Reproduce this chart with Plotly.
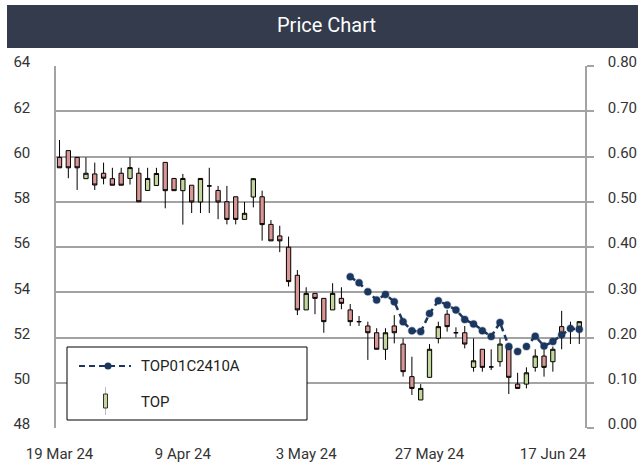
import plotly.graph_objects as go

# ---------------- data ----------------
dates = [
    "2024-03-19", "2024-03-20", "2024-03-21", "2024-03-22", "2024-03-25", "2024-03-26",
    "2024-03-27", "2024-03-28", "2024-03-29", "2024-04-01", "2024-04-02", "2024-04-03",
    "2024-04-04", "2024-04-05", "2024-04-09", "2024-04-10", "2024-04-11", "2024-04-17",
    "2024-04-18", "2024-04-19", "2024-04-22", "2024-04-23", "2024-04-24", "2024-04-25",
    "2024-04-26", "2024-04-29", "2024-04-30", "2024-05-02", "2024-05-03", "2024-05-07",
    "2024-05-08", "2024-05-09", "2024-05-10", "2024-05-13", "2024-05-14", "2024-05-15",
    "2024-05-16", "2024-05-17", "2024-05-20", "2024-05-21", "2024-05-23", "2024-05-24",
    "2024-05-27", "2024-05-28", "2024-05-29", "2024-05-30", "2024-05-31", "2024-06-04",
    "2024-06-05", "2024-06-06", "2024-06-07", "2024-06-10", "2024-06-11", "2024-06-12",
    "2024-06-13", "2024-06-14", "2024-06-17", "2024-06-18", "2024-06-19", "2024-06-20",
]
opens = [
    59.96, 60.26, 59.96, 59.02, 59.23, 59.26, 59.02, 59.26, 59.03, 59.26,
    58.50, 58.72, 59.74, 59.03, 58.49, 58.73, 57.99, 58.70, 58.50, 58.00,
    58.22, 57.22, 58.21, 58.22, 57.00, 56.49, 55.99, 54.75, 53.22, 53.95,
    53.73, 53.22, 53.73, 53.22, 52.70, 52.51, 52.21, 51.48, 52.51, 51.71,
    50.27, 49.24, 50.24, 51.96, 53.03, 52.21, 52.21, 50.68, 51.48, 50.70,
    50.93, 51.48, 49.94, 49.94, 50.68, 51.18, 50.93, 52.48, 52.30, 52.26,
]
highs = [
    60.73, 60.26, 59.96, 59.96, 59.73, 59.73, 59.50, 59.50, 59.96, 59.50,
    59.50, 59.50, 59.74, 59.03, 59.23, 58.73, 59.03, 59.50, 58.70, 58.70,
    58.22, 57.99, 59.02, 58.49, 57.19, 56.94, 56.46, 54.98, 54.22, 53.95,
    53.73, 54.40, 54.22, 53.48, 52.95, 52.70, 52.41, 52.41, 52.99, 51.96,
    51.15, 49.94, 51.71, 52.70, 53.22, 52.45, 52.51, 51.96, 51.48, 51.48,
    51.96, 51.71, 50.44, 50.68, 51.48, 51.48, 51.60, 53.18, 52.70, 52.70,
]
lows = [
    59.50, 59.04, 58.52, 59.02, 58.52, 58.77, 58.73, 58.73, 58.76, 58.00,
    58.50, 58.72, 57.71, 58.49, 56.99, 57.50, 57.50, 57.50, 57.23, 57.00,
    57.00, 57.22, 57.75, 56.28, 56.27, 55.77, 54.25, 52.99, 53.22, 53.03,
    52.21, 53.22, 53.25, 52.51, 52.51, 51.01, 51.48, 51.01, 51.74, 50.27,
    49.46, 49.24, 50.24, 51.74, 52.26, 52.00, 51.52, 50.49, 50.49, 50.56,
    50.71, 49.50, 49.75, 49.75, 50.49, 50.27, 50.49, 51.48, 51.71, 51.71,
]
closes = [
    59.50, 59.50, 59.50, 59.26, 58.74, 59.04, 58.73, 58.73, 59.51, 58.00,
    59.03, 59.25, 58.49, 58.49, 59.03, 57.99, 59.03, 58.70, 57.99, 57.22,
    57.22, 57.49, 59.02, 56.99, 56.27, 56.27, 54.47, 53.22, 53.95, 53.73,
    52.70, 53.95, 53.51, 52.70, 52.70, 52.21, 51.48, 52.21, 52.21, 50.49,
    49.75, 49.75, 51.48, 52.48, 52.48, 52.21, 51.71, 50.97, 50.68, 50.70,
    51.71, 50.24, 49.75, 50.44, 51.18, 50.68, 51.48, 52.11, 52.45, 52.70,
]
warrant_dates = dates[33:]
warrant_values = [
    0.334, 0.321, 0.301, 0.283, 0.295, 0.279, 0.235, 0.215, 0.213, 0.253,
    0.281, 0.272, 0.261, 0.240, 0.230, 0.215, 0.202, 0.233, 0.180, 0.169,
    0.180, 0.203, 0.181, 0.191, 0.206, 0.220, 0.218,
]
tick_dates = ["2024-03-19", "2024-04-09", "2024-05-03", "2024-05-27", "2024-06-17"]
tick_labels = ["19 Mar 24", "9 Apr 24", "3 May 24", "27 May 24", "17 Jun 24"]
price_ticks = [48, 50, 52, 54, 56, 58, 60, 62, 64]
warrant_ticks = [0.0, 0.1, 0.2, 0.3, 0.4, 0.5, 0.6, 0.7, 0.8]

# ---------------- layout geometry ----------------
W, H = 638, 465
L, R, T, B = 56, 53, 66, 37
PW, PH = W - L - R, H - T - B


def px(x):
    return (x - L) / PW


def py(y):
    return (H - B - y) / PH


GRID = "#a3a3a3"
NAVY = "#1b365f"
UP = "#c3d69b"
DOWN = "#d99694"
FONT = "Roboto"

fig = go.Figure()
fig.add_trace(go.Candlestick(
    x=dates, open=opens, high=highs, low=lows, close=closes, name="TOP",
    increasing=dict(fillcolor=UP, line=dict(color="black", width=1)),
    decreasing=dict(fillcolor=DOWN, line=dict(color="black", width=1)),
    whiskerwidth=0, showlegend=False, hoverinfo="skip",
))
fig.add_trace(go.Scatter(
    x=warrant_dates, y=warrant_values, yaxis="y2", name="TOP01C2410A",
    mode="lines+markers",
    line=dict(color=NAVY, width=2.5, dash="6px,4px"),
    marker=dict(color=NAVY, size=7, line=dict(color="rgba(27,54,95,0.35)", width=1.5)),
    showlegend=False, hoverinfo="skip",
))

shapes = [
    # title bar
    dict(type="rect", xref="paper", yref="paper", x0=px(7), x1=px(640), y0=py(48), y1=py(5),
         fillcolor="#333b4c", line=dict(width=0), layer="above"),
    # legend box
    dict(type="rect", xref="paper", yref="paper", x0=px(67), x1=px(307), y0=py(420), y1=py(347),
         fillcolor="white", line=dict(color="black", width=1), layer="above"),
    # legend: dashed line sample
    dict(type="line", xref="paper", yref="paper", x0=px(79), x1=px(131), y0=py(366), y1=py(366),
         line=dict(color=NAVY, width=2, dash="6px,4px"), layer="above"),
    dict(type="circle", xref="paper", yref="paper", x0=px(104.5), x1=px(111.5), y0=py(369.5), y1=py(362.5),
         fillcolor=NAVY, line=dict(color=NAVY, width=0), layer="above"),
    # legend: candle sample
    dict(type="line", xref="paper", yref="paper", x0=px(105.5), x1=px(105.5), y0=py(415), y1=py(387),
         line=dict(color="#bbbbbb", width=1), layer="above"),
    dict(type="rect", xref="paper", yref="paper", x0=px(103.5), x1=px(107.5), y0=py(408), y1=py(394),
         fillcolor=UP, line=dict(color="#333333", width=1), layer="above"),
]

annotations = [
    dict(text="Price Chart", xref="paper", yref="paper", x=px(326), y=py(25),
         showarrow=False, font=dict(family=FONT, size=20, color="white"),
         xanchor="center", yanchor="middle"),
    dict(text="TOP01C2410A", xref="paper", yref="paper", x=px(139), y=py(366),
         showarrow=False, font=dict(family=FONT, size=15, color="#222222"),
         xanchor="left", yanchor="middle"),
    dict(text="TOP", xref="paper", yref="paper", x=px(139), y=py(402),
         showarrow=False, font=dict(family=FONT, size=15, color="#222222"),
         xanchor="left", yanchor="middle"),
]

fig.update_layout(
    width=W, height=H,
    margin=dict(l=L, r=R, t=T, b=B, pad=0, autoexpand=False),
    paper_bgcolor="white", plot_bgcolor="white",
    font=dict(family=FONT, size=15, color="#333333"),
    boxgap=0.3,
    shapes=shapes, annotations=annotations,
    xaxis=dict(
        type="category", range=[-0.4, 59.65], tickmode="array",
        tickvals=tick_dates, ticktext=tick_labels, showgrid=False, showline=False,
        zeroline=False, ticks="", rangeslider=dict(visible=False), automargin=False,
        tickfont=dict(family=FONT, size=15, color="#333333"), ticklabelstandoff=15,
    ),
    yaxis=dict(
        range=[48, 64], tickmode="array", tickvals=price_ticks, automargin=False,
        showgrid=True, gridcolor=GRID, gridwidth=1.5, zeroline=False,
        showline=True, linecolor=GRID, linewidth=1.5, ticks="",
        tickfont=dict(family=FONT, size=15, color="#333333"),
        ticklabelstandoff=21, ticklabelshift=-4,
    ),
    yaxis2=dict(
        overlaying="y", side="right", range=[0, 0.8], tickmode="array", automargin=False,
        tickvals=warrant_ticks, tickformat=".2f", showgrid=False, zeroline=False,
        showline=True, linecolor=GRID, linewidth=1.5,
        ticks="outside", ticklen=7, tickwidth=1.5, tickcolor=GRID,
        tickfont=dict(family=FONT, size=15, color="#333333"),
        ticklabelstandoff=11, ticklabelshift=-4,
    ),
)

fig.write_html("out.html", config={"displayModeBar": False},
               post_script="document.body.style.margin='0';")
